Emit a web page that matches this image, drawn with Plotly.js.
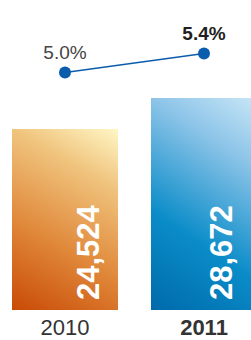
<!DOCTYPE html>
<html>
<head>
<meta charset="utf-8">
<script src="https://cdn.plot.ly/plotly-3.0.1.min.js"></script>
<style>html,body{margin:0;padding:0;background:#fff;}#chart{width:251px;height:340px;}</style>
</head>
<body>
<div id="chart"></div>
<script>
const categories = ['2010', '2011'];
const tickLabels = ['2010', '<b>2011</b>'];
const barValues = [24524, 28672];
const barLabels = ['24,524', '28,672'];
const rateValues = [5.0, 5.4];
const rateLabels = ['5.0%', '<b>5.4%</b>'];

const FONT = '"Liberation Sans", Arial, Helvetica, sans-serif';

const bars = {
  type: 'bar', x: categories, y: barValues,
  width: 0.7626,
  marker: {color: ['#e08a3c', '#1a8fc8'], line: {width: 0}},
  text: barLabels.map(s => '<b>' + s + '</b>'),
  textposition: 'inside', insidetextanchor: 'start', textangle: -90,
  constraintext: 'none',
  insidetextfont: {family: FONT, size: 31, color: '#ffffff'},
  hoverinfo: 'none', showlegend: false
};
const line = {
  type: 'scatter', mode: 'lines+markers+text', x: categories, y: rateValues, yaxis: 'y2',
  line: {color: '#0a5cad', width: 1.5},
  marker: {color: '#0a5cad', size: 12},
  text: rateLabels, textposition: 'top center',
  textfont: {family: FONT, size: [19, 19], color: ['#444444', '#231f20']},
  cliponaxis: false, hoverinfo: 'none', showlegend: false
};

const layout = {
  width: 251, height: 340,
  margin: {l: 0, r: 0, t: 0, b: 30, pad: 0},
  paper_bgcolor: '#ffffff', plot_bgcolor: '#ffffff',
  xaxis: {type: 'category', range: [-0.4676, 1.3381], tickvals: categories, ticktext: tickLabels,
          showgrid: false, zeroline: false, showline: false, ticks: '', ticklabelstandoff: 2,
          tickfont: {family: FONT, size: 22, color: '#333333'}, fixedrange: true},
  yaxis: {range: [0, 41926], visible: false, fixedrange: true},
  yaxis2: {range: [0, 6.526], overlaying: 'y', visible: false, fixedrange: true},
  bargap: 0
};

const labelShift = [[23, -7], [17, -7]];

Plotly.newPlot('chart', [bars, line], layout, {staticPlot: true, displayModeBar: false}).then(gd => {
  const svg = gd.querySelector('svg.main-svg');
  const ns = 'http://www.w3.org/2000/svg';
  let defs = svg.querySelector('defs');
  const grads = [
    [['0', '#c94a05'], ['0.4', '#e18c3e'], ['0.75', '#f0c47e'], ['1', '#fff7c6']],
    [['0', '#006aab'], ['0.35', '#0a8cc8'], ['0.75', '#8cc4e8'], ['1', '#c8e6f7']]
  ];
  grads.forEach((stops, i) => {
    const g = document.createElementNS(ns, 'linearGradient');
    g.setAttribute('id', 'bargrad' + i);
    g.setAttribute('x1', '0'); g.setAttribute('y1', '1');
    g.setAttribute('x2', '0.4'); g.setAttribute('y2', '-0.2');
    stops.forEach(([o, c]) => {
      const s = document.createElementNS(ns, 'stop');
      s.setAttribute('offset', o); s.setAttribute('stop-color', c);
      g.appendChild(s);
    });
    defs.appendChild(g);
  });
  gd.querySelectorAll('.barlayer .point').forEach((pt, i) => {
    const p = pt.querySelector('path');
    if (p) p.style.fill = 'url(#bargrad' + i + ')';
    const t = pt.querySelector('text');
    if (t) {
      const tr = t.getAttribute('transform') || '';
      t.setAttribute('transform', 'translate(' + labelShift[i][0] + ',' + labelShift[i][1] + ') ' + tr);
    }
  });
});
</script>
</body>
</html>
